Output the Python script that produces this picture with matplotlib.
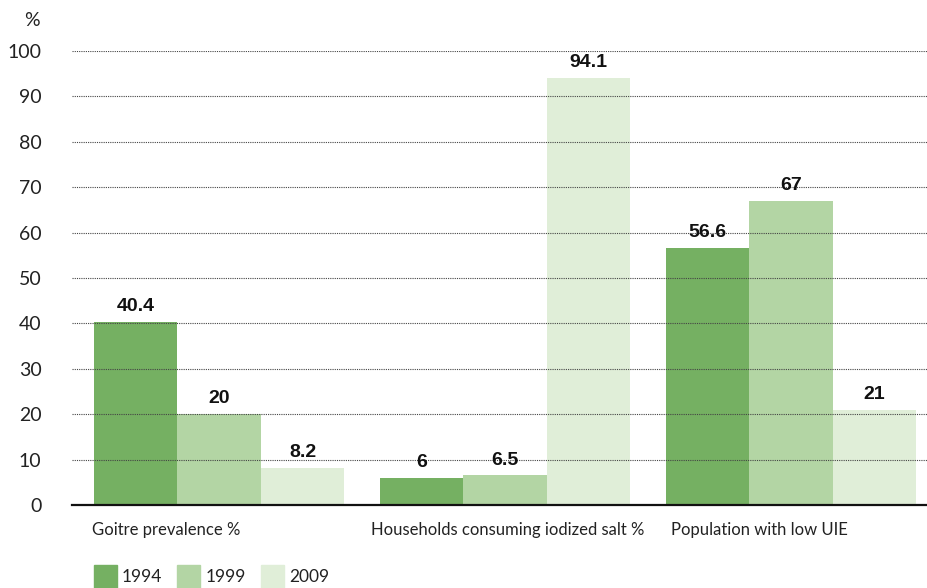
import numpy as np
import matplotlib.pyplot as plt
from matplotlib.patches import Rectangle
from matplotlib.transforms import blended_transform_factory, offset_copy

# Dane
kategorije = ['Goitre prevalence %', 'Households consuming iodized salt %', 'Population with low UIE']
godine = ['1994', '1999', '2009']
vrijednosti_1994 = [40.4, 6, 56.6]
vrijednosti_1999 = [20, 6.5, 67]
vrijednosti_2009 = [8.2, 94.1, 21]
boje = ['#75b062', '#b3d5a4', '#e0eed8']

plt.rcParams['font.family'] = ['Lato', 'DejaVu Sans']

fig = plt.figure(figsize=(9.28, 5.88), dpi=100)
ax = fig.add_axes([0.0776, 0.1412, 0.9224, 0.7721])

x = np.arange(len(kategorije))
w = 0.292
serije = [vrijednosti_1994, vrijednosti_1999, vrijednosti_2009]
for i, (god, vals, boja) in enumerate(zip(godine, serije, boje)):
    bars = ax.bar(x + (i - 1) * w, vals, width=w, color=boja, label=god, zorder=1)
    for b, v in zip(bars, vals):
        ax.annotate(f'{v:g}', (b.get_x() + b.get_width() / 2, v), xytext=(0, 5),
                    textcoords='offset points', ha='center', va='bottom',
                    fontsize=14, fontweight='bold', color='#111111',
                    family=['Liberation Sans', 'DejaVu Sans'])

ax.set_xlim(-0.514, 2.479)
ax.set_ylim(0, 100)
ax.set_yticks(np.arange(0, 101, 10))
ax.tick_params(axis='y', length=0, labelsize=14, pad=22, colors='#222222')
ax.set_xticks([])
ax.yaxis.grid(True, linestyle=(0, (1, 1)), color='#444444', linewidth=0.8, zorder=3)
ax.set_axisbelow(False)
for s in ['top', 'right', 'left']:
    ax.spines[s].set_visible(False)
ax.spines['bottom'].set_linewidth(1.6)
ax.spines['bottom'].set_color('#111111')
ax.spines['bottom'].set_zorder(4)

# Nazivi kategorija ispod grupa
pomaci = [-1, -6, 4]
for xi, naziv, p in zip(x, kategorije, pomaci):
    ax.annotate(naziv, (xi - 1.5 * w, 0), xytext=(p, -12), textcoords='offset points',
                ha='left', va='top', fontsize=12, color='#222222', annotation_clip=False)

fig.text(0.043, 0.965, '%', ha='right', va='center', fontsize=14, color='#222222')

# Legenda: kvadratići poravnati sa stupcima prve grupe
tr = blended_transform_factory(ax.transData, fig.transFigure)
for i, (god, boja) in enumerate(zip(godine, boje)):
    lijevo = x[0] + (i - 1.5) * w
    kv = Rectangle((lijevo, 0.0), 0.08, 0.039, transform=tr, color=boja, clip_on=False)
    fig.add_artist(kv)
    fig.text(lijevo, 0.0195, god, transform=offset_copy(tr, fig=fig, x=28, y=0, units='dots'),
             ha='left', va='center', fontsize=12.5, color='#222222')

fig.savefig('out.png', dpi=100)
